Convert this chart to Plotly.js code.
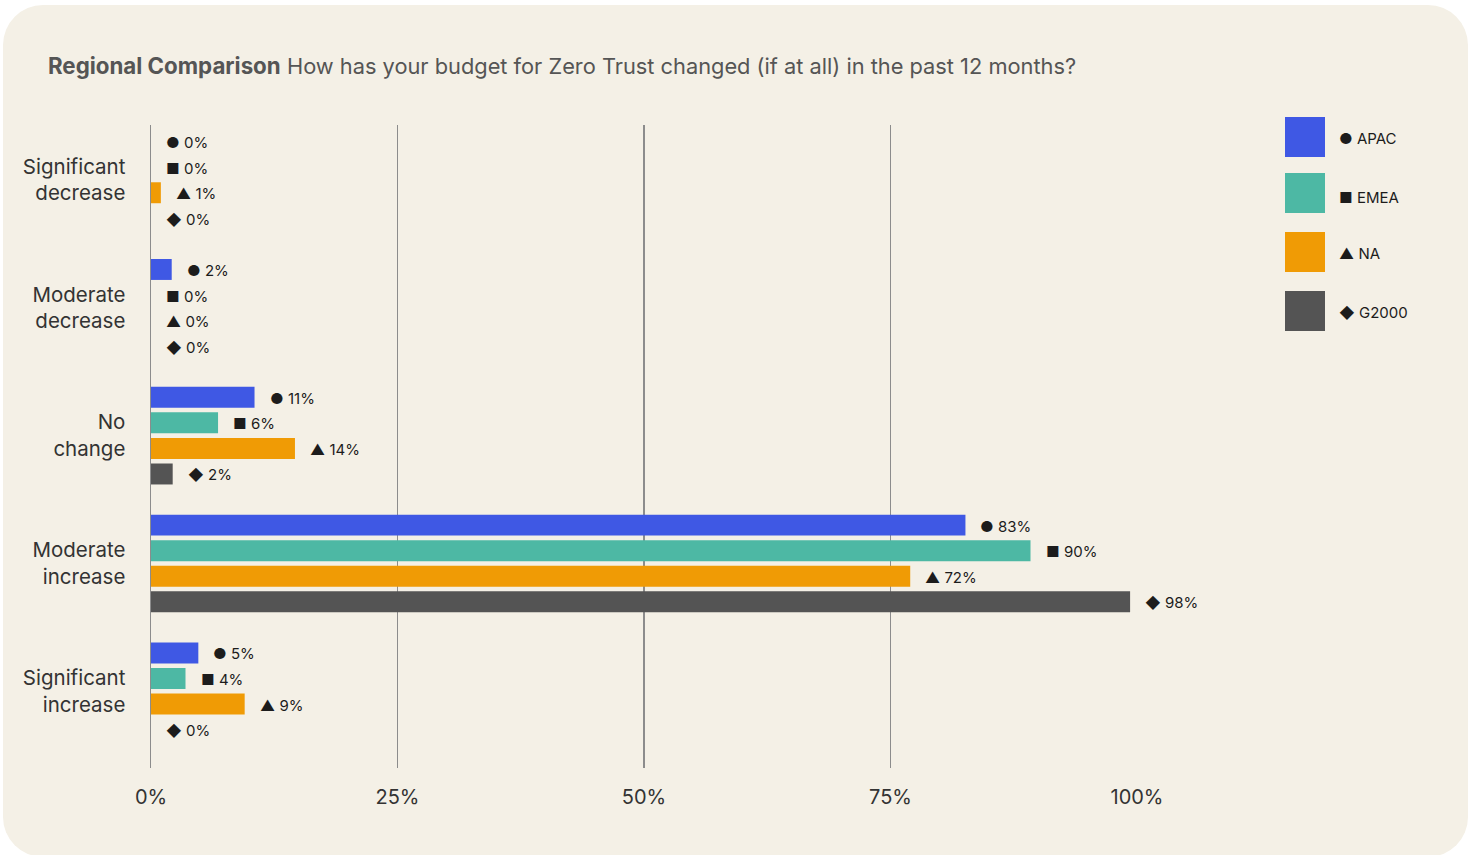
<!DOCTYPE html>
<html>
<head>
<meta charset="utf-8">
<script src="https://cdn.plot.ly/plotly-3.0.1.min.js"></script>
<style>
  html, body { margin: 0; padding: 0; background: #ffffff; width: 1481px; height: 855px; overflow: hidden; }
  #card { position: absolute; left: 3px; top: 5px; width: 1465px; height: 852px; border-radius: 40px; background: #f4f0e6; }
  #chart { position: absolute; left: 0; top: 0; width: 1481px; height: 855px; }
</style>
</head>
<body>
<div id="card"></div>
<div id="chart"></div>
<script>
// ---- data ----
const categories = ["Significant<br>decrease", "Moderate<br>decrease", "No<br>change", "Moderate<br>increase", "Significant<br>increase"];
const seriesNames = ["APAC", "EMEA", "NA", "G2000"];
const seriesSymbols = ["\u25CF", "\u25A0", "\u25B2", "\u25C6"];
const seriesColors = ["#3f58e4", "#4db8a4", "#f09b05", "#545454"];
// bar lengths as drawn (percent)
const apacValues  = [0, 2.1, 10.5, 82.6, 4.8];
const emeaValues  = [0, 0, 6.8, 89.2, 3.5];
const naValues    = [1.0, 0, 14.6, 77.0, 9.5];
const g2000Values = [0, 0, 2.2, 99.3, 0];
// printed labels
const apacLabels  = ["0%", "2%", "11%", "83%", "5%"];
const emeaLabels  = ["0%", "0%", "6%", "90%", "4%"];
const naLabels    = ["1%", "0%", "14%", "72%", "9%"];
const g2000Labels = ["0%", "0%", "2%", "98%", "0%"];
const xTickVals = [0, 25, 50, 75, 100];
const xTickText = ["0%", "25%", "50%", "75%", "100%"];
const titleBold = "Regional Comparison";
const titleRest = "How has your budget for Zero Trust changed (if at all) in the past 12 months?";

const allValues = [apacValues, emeaValues, naValues, g2000Values];
const allLabels = [apacLabels, emeaLabels, naLabels, g2000Labels];
const catIdx = categories.map((c, i) => i);

const FONT = "Inter, 'Open Sans', 'DejaVu Sans', sans-serif";
const M = { l: 151, r: 344, t: 125, b: 87 };
const W = 1481, H = 855;
const pw = W - M.l - M.r, ph = H - M.t - M.b;
const pxX = x => (x - M.l) / pw;
const pxY = y => (H - M.b - y) / ph;

const traces = seriesNames.map((name, j) => ({
  type: "bar",
  orientation: "h",
  name: name,
  x: allValues[j],
  y: catIdx,
  marker: { color: seriesColors[j] },
  hoverinfo: "skip",
  showlegend: false
}));

const annotations = [];
const slot = 0.2;
seriesNames.forEach((name, j) => {
  allValues[j].forEach((v, i) => {
    annotations.push({
      x: v, y: i + (j - 1.5) * slot, xref: "x", yref: "y",
      text: seriesSymbols[j] + " " + allLabels[j][i],
      showarrow: false, xanchor: "left", yanchor: "middle",
      xshift: 13, yshift: -1,
      font: { family: FONT, size: 15, color: "#1c1c1c" }
    });
  });
});

// custom legend
const shapes = [];
const legTops = [117, 173, 232, 291];
const legText = [138, 197, 253, 312];
seriesNames.forEach((name, j) => {
  const top = legTops[j];
  shapes.push({
    type: "rect", xref: "paper", yref: "paper",
    x0: pxX(1285), x1: pxX(1325), y0: pxY(top + 40), y1: pxY(top),
    fillcolor: seriesColors[j], line: { width: 0 }, layer: "above"
  });
  annotations.push({
    xref: "paper", yref: "paper", x: pxX(1337), y: pxY(legText[j]),
    xanchor: "left", yanchor: "middle", showarrow: false,
    text: seriesSymbols[j] + " " + name,
    font: { family: FONT, size: 15, color: "#1c1c1c" }
  });
});

const layout = {
  width: W, height: H,
  margin: M,
  paper_bgcolor: "rgba(0,0,0,0)",
  plot_bgcolor: "rgba(0,0,0,0)",
  barmode: "group",
  bargap: 0.2,
  bargroupgap: 0.18,
  showlegend: false,
  title: {
    text: "<b>" + titleBold + "</b> <span style=\"font-size:21.8px\">" + titleRest + "</span>",
    xref: "container", yref: "container",
    x: 48 / W, xanchor: "left",
    y: 1 - 66 / H, yanchor: "middle",
    font: { family: FONT, size: 22.3, color: "#555555" }
  },
  xaxis: {
    range: [0, 100],
    tickvals: xTickVals, ticktext: xTickText,
    showgrid: true, gridcolor: "#8c8c8c", gridwidth: 1.5,
    zeroline: false, showline: false, ticks: "",
    tickfont: { family: FONT, size: 20, color: "#333333" },
    ticklabelstandoff: 15,
    fixedrange: true
  },
  yaxis: {
    range: [4.6, -0.43],
    tickvals: catIdx, ticktext: categories,
    showgrid: false, zeroline: false, showline: true,
    linecolor: "#8c8c8c", linewidth: 1.5, ticks: "",
    tickfont: { family: FONT, size: 20.5, color: "#333333" },
    ticklabelstandoff: 20,
    fixedrange: true
  },
  annotations: annotations,
  shapes: shapes
};

Plotly.newPlot("chart", traces, layout, { displayModeBar: false, staticPlot: true });
</script>
</body>
</html>
